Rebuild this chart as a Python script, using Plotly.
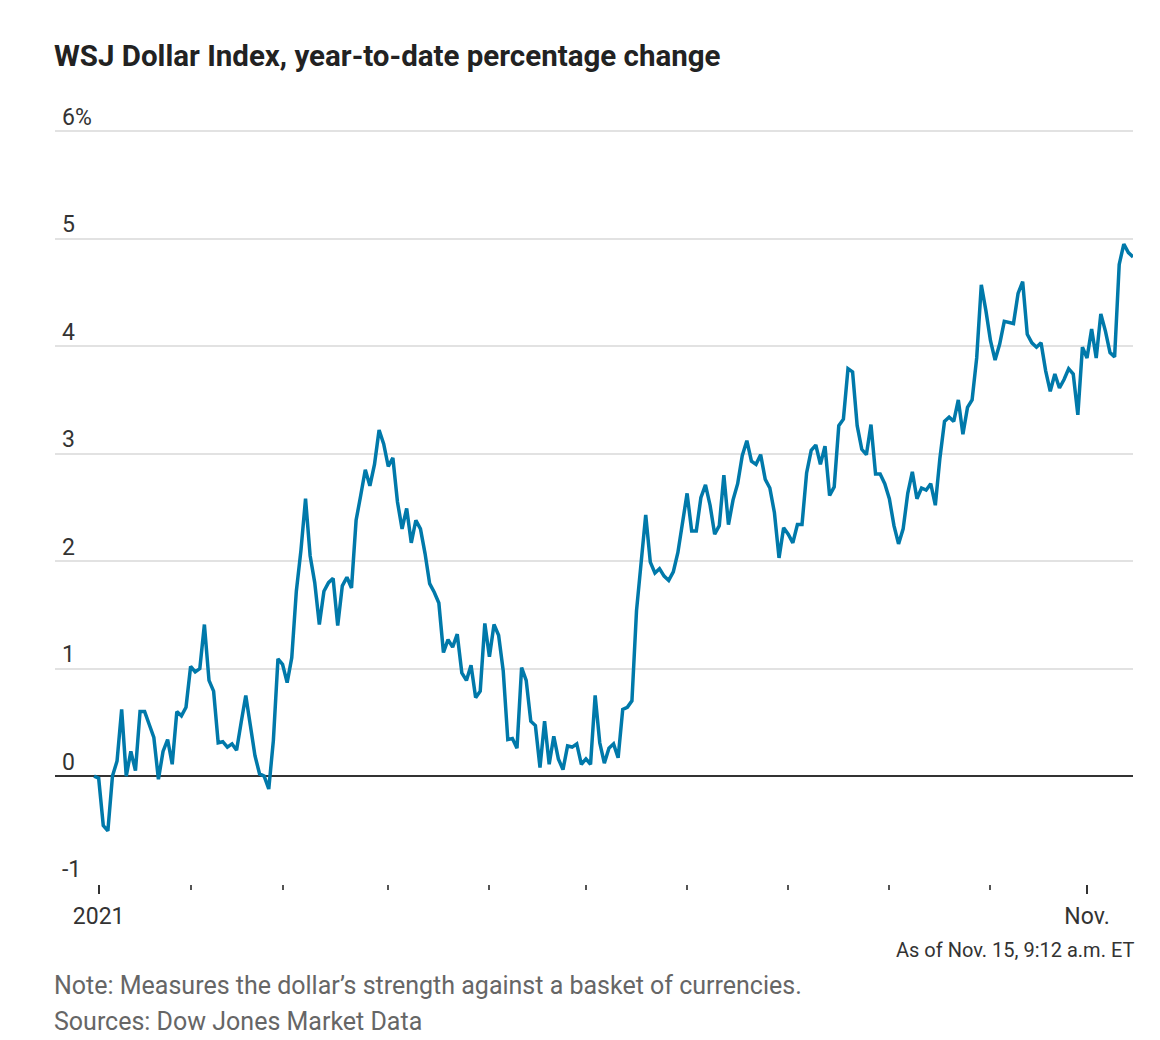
import pandas as pd
import plotly.graph_objects as go

# Trading days (weekdays, New Year's Day excluded)
dates = pd.bdate_range("2020-12-31", "2021-11-15")
dates = dates[dates != pd.Timestamp("2021-01-01")]

# WSJ Dollar Index, year-to-date % change
values = [
    0.00, -0.02, -0.46, -0.51, 0.00, 0.14, 0.62, 0.00, 0.23, 0.05,
    0.60, 0.60, 0.48, 0.36, -0.03, 0.23, 0.34, 0.11, 0.60, 0.56,
    0.64, 1.02, 0.97, 1.00, 1.41, 0.89, 0.79, 0.31, 0.32, 0.27,
    0.30, 0.24, 0.50, 0.75, 0.47, 0.19, 0.02, 0.00, -0.12, 0.33,
    1.09, 1.04, 0.87, 1.10, 1.72, 2.10, 2.58, 2.05, 1.80, 1.41,
    1.72, 1.80, 1.84, 1.40, 1.77, 1.85, 1.75, 2.38, 2.61, 2.85,
    2.70, 2.90, 3.22, 3.09, 2.88, 2.96, 2.55, 2.30, 2.49, 2.17,
    2.38, 2.30, 2.07, 1.79, 1.71, 1.61, 1.15, 1.27, 1.20, 1.32,
    0.96, 0.89, 1.03, 0.73, 0.79, 1.42, 1.11, 1.41, 1.31, 0.98,
    0.34, 0.35, 0.26, 1.01, 0.89, 0.51, 0.47, 0.08, 0.51, 0.11,
    0.37, 0.16, 0.06, 0.28, 0.27, 0.30, 0.11, 0.16, 0.11, 0.75,
    0.31, 0.12, 0.26, 0.30, 0.17, 0.62, 0.64, 0.70, 1.54, 1.99,
    2.43, 1.99, 1.89, 1.93, 1.86, 1.82, 1.90, 2.08, 2.35, 2.63,
    2.28, 2.28, 2.59, 2.71, 2.52, 2.25, 2.33, 2.80, 2.34, 2.57,
    2.72, 2.98, 3.12, 2.93, 2.90, 2.99, 2.76, 2.68, 2.45, 2.03,
    2.31, 2.25, 2.17, 2.34, 2.34, 2.82, 3.03, 3.08, 2.90, 3.07,
    2.61, 2.69, 3.26, 3.32, 3.79, 3.76, 3.26, 3.04, 2.99, 3.27,
    2.81, 2.81, 2.72, 2.58, 2.33, 2.16, 2.30, 2.63, 2.83, 2.58,
    2.68, 2.66, 2.72, 2.52, 2.96, 3.30, 3.34, 3.30, 3.50, 3.18,
    3.43, 3.50, 3.89, 4.57, 4.33, 4.05, 3.87, 4.02, 4.23, 4.22,
    4.21, 4.49, 4.60, 4.11, 4.03, 3.99, 4.03, 3.77, 3.58, 3.74,
    3.61, 3.69, 3.79, 3.74, 3.36, 3.99, 3.89, 4.16, 3.89, 4.30,
    4.14, 3.94, 3.90, 4.76, 4.95, 4.87, 4.83,
]

y_ticks = [-1, 0, 1, 2, 3, 4, 5, 6]
y_labels = ["-1", "0", "1", "2", "3", "4", "5", "6%"]

title_text = "WSJ Dollar Index, year-to-date percentage change"
asof_text = "As of Nov. 15, 9:12 a.m. ET"
note_text = "Note: Measures the dollar\u2019s strength against a basket of currencies."
source_text = "Sources: Dow Jones Market Data"

n = len(dates)
xi = list(range(n))
month_idx = [i for i in range(1, n) if dates[i].month != dates[i - 1].month]
major_idx = [month_idx[0], month_idx[-1]]
major_labels = ["2021", "Nov."]
minor_idx = month_idx[1:-1]

FONT = "Roboto, sans-serif"
BLUE = "#0079aa"
TOP = 129

fig = go.Figure()
fig.add_trace(go.Scatter(
    x=xi, y=values, mode="lines",
    line=dict(color=BLUE, width=3.5),
    customdata=[d.strftime("%b %d, %Y") for d in dates],
    hovertemplate="%{customdata}: %{y:.2f}%<extra></extra>",
))

fig.update_layout(
    width=1160, height=1040,
    margin=dict(l=55, r=27, t=TOP, b=156),
    plot_bgcolor="white", paper_bgcolor="white",
    showlegend=False,
    font=dict(family=FONT, color="#333333", size=22),
    xaxis=dict(
        range=[-8.5, n - 1],
        showgrid=False, zeroline=False, showline=False,
        tickmode="array", tickvals=major_idx, ticktext=major_labels,
        ticks="outside", ticklen=9, tickwidth=1.5, tickcolor="#333333",
        ticklabelstandoff=2,
        tickfont=dict(size=23, color="#333333"),
        minor=dict(tickmode="array", tickvals=minor_idx, ticks="outside",
                   ticklen=5, tickwidth=1.5, tickcolor="#555555", showgrid=False),
        fixedrange=True,
    ),
    yaxis=dict(
        range=[-1.004, 6.02],
        tickmode="array", tickvals=y_ticks,
        showticklabels=False,
        showgrid=True, gridcolor="#e2e2e2", gridwidth=2,
        zeroline=True, zerolinecolor="#333333", zerolinewidth=2,
        showline=False, ticks="",
        fixedrange=True,
    ),
)

# y-axis labels sitting just above each gridline, inside the plot
for v, lab in zip(y_ticks, y_labels):
    fig.add_annotation(
        text=lab, xref="paper", yref="y", x=0, y=v,
        xanchor="left", yanchor="middle", xshift=5, yshift=14,
        showarrow=False, font=dict(family=FONT, size=23, color="#333333"),
    )

fig.add_annotation(
    text="<b>" + title_text + "</b>", xref="paper", yref="paper",
    x=0, y=1, xanchor="left", yanchor="middle",
    yshift=(TOP - 56), xshift=-3, showarrow=False,
    font=dict(family=FONT, size=29.5, color="#222222"),
)
fig.add_annotation(
    text=asof_text, xref="paper", yref="paper",
    x=1, y=0, xanchor="right", yanchor="middle",
    yshift=-(950 - 884), xshift=3, showarrow=False,
    font=dict(family=FONT, size=20, color="#333333"),
)
fig.add_annotation(
    text=note_text, xref="paper", yref="paper",
    x=0, y=0, xanchor="left", yanchor="middle",
    yshift=-(985 - 884), xshift=-3, showarrow=False,
    font=dict(family=FONT, size=25, color="#666666"),
)
fig.add_annotation(
    text=source_text, xref="paper", yref="paper",
    x=0, y=0, xanchor="left", yanchor="middle",
    yshift=-(1021 - 884), xshift=-3, showarrow=False,
    font=dict(family=FONT, size=25, color="#666666"),
)

fig.write_html("out.html")
